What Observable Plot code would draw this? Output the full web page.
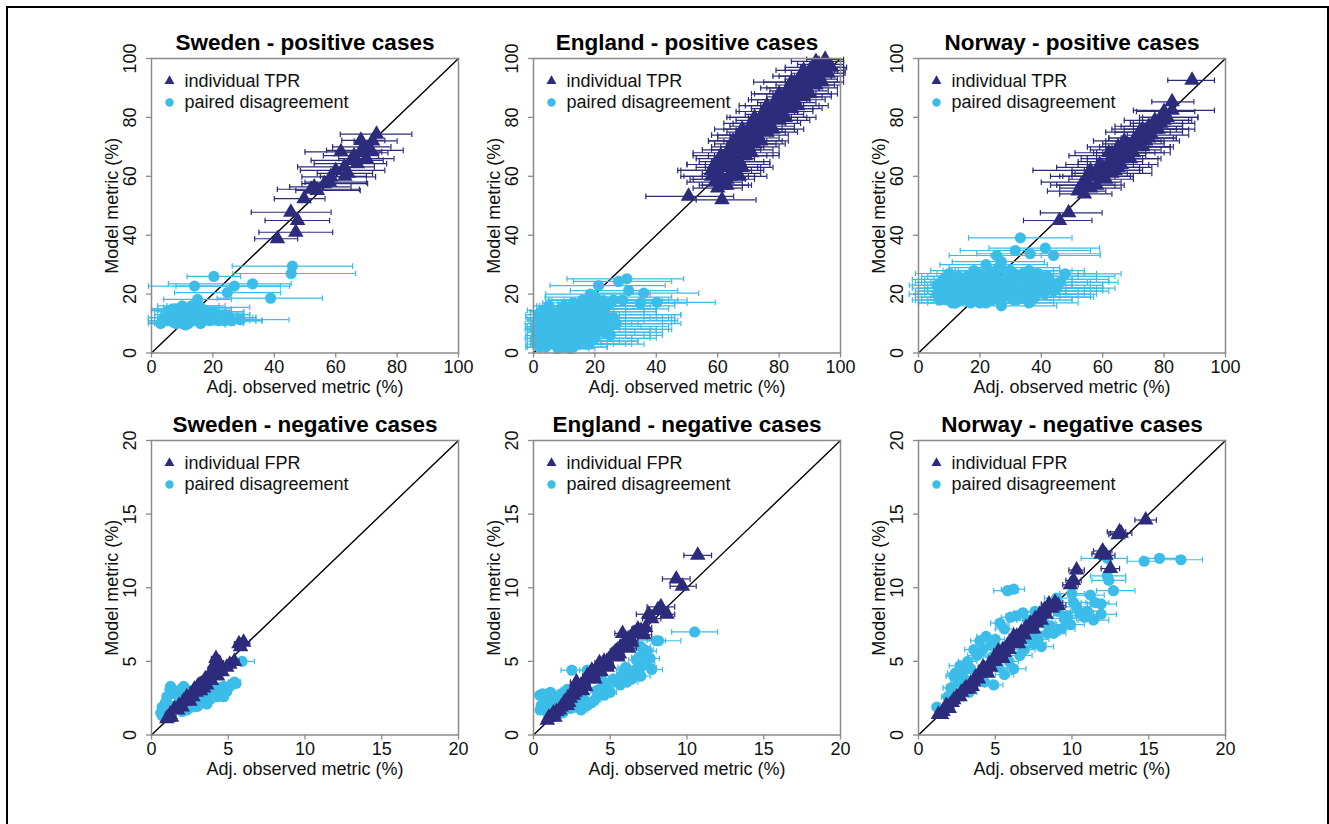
<!DOCTYPE html>
<html><head><meta charset="utf-8">
<script src="https://cdn.jsdelivr.net/npm/d3@7"></script>
<script src="https://cdn.jsdelivr.net/npm/@observablehq/plot@0.6"></script>
<style>
html,body{margin:0;padding:0;background:#fff;}
body{width:1329px;height:824px;overflow:hidden;position:relative;font-family:"Liberation Sans",Arial,Helvetica,sans-serif;}
#border{position:absolute;left:6px;top:6px;width:1323px;height:1000px;border:2.5px solid #000;box-sizing:border-box;}
</style></head>
<body><div id="border"></div><div id="root"></div>
<script>
// ---- labels / ticks ----
const countries = ["Sweden", "England", "Norway"];
const caseTypes = ["positive cases", "negative cases"];
const indLabels = ["individual TPR", "individual FPR"];
const pairLabel = "paired disagreement";
const xLabel = "Adj. observed metric (%)";
const yLabel = "Model metric (%)";
const posTicks = [0, 20, 40, 60, 80, 100];
const negTicks = [0, 5, 10, 15, 20];
const posDomain = [0, 100];
const negDomain = [0, 20];

// ---- data: [observed, model, lower CI, upper CI] ----
const swePosInd = [
[73.3,74.3,61.5,84.8],[68.2,72.2,62,76],[71.5,68.8,57,82],[61.7,68.3,50,75],[67,64.3,53,76.6],
[65,65.4,52,75.5],[62.8,63.2,47.6,72.6],[60,62,48.5,76],[58.4,59.8,49,73],[56.3,57.5,49,70.4],
[54,55.2,47,68],[53,56.4,45,65],[52,55.6,41,67.7],[49.7,52.4,40,56.5],[45.4,47.8,32.5,58.5],
[47.6,45,37,58],[47,41,35,59],[41,38.8,33.6,47.6],[64,61,54,72],[66,67,56,74],[69,70,59,78],
[70,66,61,79],[58,58,50,70],[63,60,55,70],[68,68,60,77],[72,72,66,80]];
const swePosPair = [
[45.9,29.5,26.3,65.5],[45.5,27,26.5,66.5],[20.3,26,11.6,29],[14,22.7,-1,45],[32.9,23.5,5.5,45.5],
[27,22.7,8,42],[24.7,20.5,7.5,42],[38.8,18.6,21.4,55.7],[15,18.2,4,26],[16,15.5,4,32],[12,14,2,30],
[8,13,1,22],[6,14.5,0,20],[10,12,1,33],[14,11,4,34],[18,12,6,28],[22,11,8,36],[29,11.3,11.6,44.8],
[7,10.5,-1,25],[11,9.5,2,24],[20,13.5,6,30],[4,12,-1,14],[25,12.5,10,30],[13,16,5,24],[9,11,0,20],
[16,10,3,27],[17,14,7,24],[5,11,-1,18],
[6,12,-1,20],[7,15,0,22],[8,10,0,22],[9,14,1,24],[10,10,1,26],[11,15,2,26],[12,12,2,28],[12,10,2,30],
[13,13,3,28],[14,14,4,30],[15,12,4,30],[16,13,5,32],[17,11,5,32],[18,14,6,30],[19,11,7,34],[20,12,7,34],
[21,13,8,32],[23,12,9,34],[24,11,10,36],[26,11,11,36],[8,15,0,20],[3,10,-1,12],[10,16,2,22],[15,14.5,4,26]];
const engPosInd = [
[50.5,53.2,36.6,65.2],[61.4,52,53,72.5],[59,58,50,68],[61,60,48,70],[63,59,52,72],[65,61,55,74],
[67,60,58,76],[60,62,47,71],[62,57,54,70],[61,64,50,69],[63,63,53,73],[64,65,54,75],[66,64,56,77],
[68,63,58,78],[62,66,53,72],[63,68,52,72],[65,67,57,76],[67,69,58,78],[69,67,60,80],[71,68,62,80],
[66,70,58,75],[66,72,57,76],[68,71,59,79],[70,73,60,80],[72,71,63,82],[74,72,66,83],[69,74,60,78],
[70,76,62,81],[72,75,63,82],[74,77,64,85],[76,75,66,86],[78,76,70,88],[73,78,65,82],[74,80,64,84],
[76,79,66,86],[78,81,69,88],[80,79,71,90],[82,80,74,92],[77,82,67,86],[78,84,69,88],[80,83,71,91],
[82,85,73,92],[84,83,75,94],[86,84,78,96],[81,86,71,90],[82,88,72,92],[84,87,76,94],[86,89,77,96],
[88,87,79,97],[90,88,82,99],[85,90,76,93],[86,92,71.7,95],[88,91,79,98],[90,93,82,99],[92,91,84,100],
[94,92,87,101],[89,94,80,97],[90,96,82,99],[92,95,84,101],[94,97,87,101],[96,95,89,101.5],
[93,98,86,101],[95,99.7,89,101],
[58,60,49,67],[60,59,51,69],[64,60,55,72],[66,62,57,75],[59,64,50,68],[64,63,56,74],[67,65,58,77],
[61,67,52,71],[64,69,55,74],[68,67,59,78],[70,70,61,80],[65,72,57,75],[67,74,58,77],[71,72,62,81],
[73,74,64,83],[68,76,59,78],[71,78,62,81],[75,76,66,85],[77,78,68,87],[72,80,63,82],[75,82,66,85],
[79,80,70,89],[81,82,72,91],[76,84,67,86],[79,86,70,89],[83,84,74,93],[85,86,76,95],[80,88,71,90],
[83,90,74,93],[87,88,78,97],[89,90,80,99],[84,92,75,94],[87,94,78,97],[91,92,82,100],[93,94,85,101],
[88,96,79,98],[91,97,82,100],[95,96,87,101.5],[97,97,90,102],[92,99,84,101],[60,56,52,68],[63,57,55,71],
[58,62,48,66]];
const engPosPair = [
[30.4,25.2,10.9,48.9],[27.7,24.3,13,45],[21.2,22.9,5.4,42.9],[18.5,20,4,38],[31,21.2,12,47],
[35.9,20.3,18,53.8],[20,19,3.8,45],[40.2,17.2,22.8,59.2],[34.8,16.9,15,50],[22.8,17.8,5,42],
[25,17,8,46],[15,16,2,35],[12,14,-1,30],[22,15,6,40],[1,3,-2.5,12],[2,6,-2.5,16],[3,9,-2,20],
[4,5,-2,18],[5,12,-1,25],[6,8,-1.5,28],[7,3,-1,22],[8,11,0,30],[9,6,0,25],[10,2,1,24],[11,9,1,35],
[12,5,2,32],[13,12,2,38],[14,8,3,40],[15,3,3,30],[16,10,4,45],[17,6,4,42],[18,13,5,48],[19,9,5,44],
[20,5,6,40],[21,11,7,47],[22,8,8,45],[2,12,-2.5,14],[4,2,-2,14],[6,14,-1,22],[8,1.5,0,18],
[10,13,1,27],[12,1.5,2,20],[14,4,3,34],[16,14,4,36],[24,9,9,42],[26,12,10,45],[23,14,8,40],
[3,14.5,-2,18],[0.5,8,-2.7,10],[0.5,5,-2.7,9],[9,15,1,26],[5,16,0,22],[18,3,5,36],[25,6,10,38],
[7,7,0,24],[11,4,1,28],[13,7,2,33],[15,11,3,36],[17,8,4,40],[19,12,5,42],[3,7,-2,16],[5,9,-1,20],
[9,10,0,30],[20,15,5,40],[27,10,12,48],
[1,10,-2.7,12],[1.5,13,-2.5,14],[2,2,-2.5,10],[3,4,-2,14],[4,8,-2,18],[4,11,-1.5,20],[5,14,-1,24],
[6,5,-1,20],[6,11,-1,26],[7,9,-0.5,26],[7,13,0,28],[8,4,0,22],[8,7,0,26],[9,3,0,24],[9,12,0.5,30],
[10,8,1,30],[10,10,1,32],[11,13,1,36],[11,6,1,30],[12,10,2,34],[12,3,2,26],[13,2,2,24],[13,15,3,36],
[14,12,3,40],[14,6,3,36],[15,8,3,38],[15,14,4,40],[16,4,4,34],[16,7,4,38],[17,12,5,44],[17,3,4,32],
[18,10,5,42],[18,7,5,40],[19,5,6,38],[19,15,6,44],[20,11,6,46],[21,8,7,44],[21,13,7,48],[22,11,8,46],
[23,7,9,42],[24,12,9,46],[17,16,5,38],[19,18,5,40],[21,18,6,44],[16,18,4,36],[13,17,3,34],[24,16,9,46],
[26,18,10,47],[29,18,12,50],[10,16,1,30],[2,9,-2.5,14],[3,11.5,-2,18]];
const norPosInd = [
[89.1,92.6,81.2,96.4],[82.6,85.3,76,89.7],[82.6,82.4,70,96.4],[48.9,47.6,39.7,59.8],[45.9,45,34.2,56.5],
[52,55,42,61],[54,54,46,63],[55,58,40,66],[56,62,37.3,59.2],[58,57,45,67],[57,60,46,70],[60,63,45,72],
[61,59,49,70],[62,65,52,73],[63,61,51,76],[64,67,49,74],[66,64,55,78],[65,70,55,75],[67,69,56,79],
[68,71,60,80],[69,66,58,79],[70,68,60,82],[71,73,62,84],[72,75,61,82],[74,72,65,85],[75,77,64,86],
[76,74,68,88],[77,79,67,88],[78,76,70,90],[80,79,72,89],[79,80,73,91],[73,70,63,83],[59,61,50,68],
[66,68,57,77],[70,72,61,80],[75,73,66,84],[64,62,54,73],[78,78,69,86],
[53,57,43,64],[56,56,46,66],[58,60,47,69],[59,64,48,70],[61,62,50,72],[62,68,51,74],[63,64,52,75],
[65,63,55,76],[66,66,55,78],[67,72,57,79],[68,68,58,80],[69,70,59,82],[71,70,61,82],[72,73,62,83],
[73,76,63,84],[74,75,64,86],[76,77,66,86],[77,76,67,88],[79,78,70,90],[81,80,72,91],[80,82,71,90],
[55,60,43,64],[60,60,50,70],[63,66,53,73]];
const norPosPair = [
[33.2,39.1,16.3,50],[31.5,34.8,13.6,56],[36.4,33.7,19,59.2],[41.3,35.6,23,59],[44,33.1,23.6,59.2],
[25.5,33.1,10,40],[27,31,11,41],[47.8,26.9,30,66],[8,22,-2,20],[10,24,-1,25],[12,20,0,30],[14,22,2,32],
[16,18,3,34],[18,24,4,38],[20,20,6,40],[22,17,7,36],[24,23,9,42],[26,19,11,46],[28,22,12,48],
[30,25,14,50],[32,18,15,50],[34,21,17,52],[36,24,18,55],[38,19,20,57],[40,22,22,60],[42,26,25,64],
[44,21,26,62],[46,24,28,65],[6,20,-3,18],[9,18,-1,22],[11,21,0,26],[13,19,1,28],[15,25,2,30],
[17,21,3,36],[19,18,5,35],[21,23,6,40],[23,20,8,44],[25,26,10,44],[27,17,10,44],[29,20,13,48],
[31,23,15,50],[33,26,16,52],[35,19,18,56],[37,22,19,58],[39,27,21,58],[41,20,23,56],[7,23,-2,22],
[12,24,1,28],[20,27,6,38],[28,28,12,46],[36,28,19,54],[27,16,12,45],[18,21,5,36],[24,21,9,42],
[6,23,-3,20],[7,18,-2,20],[8,25,-2,22],[9,21,-1,24],[10,19,-1,26],[10,27,-1,26],[11,17,0,28],
[12,22,0,30],[13,26,1,32],[14,18,1,34],[14,24,2,34],[15,20,2,32],[16,23,3,36],[16,26,3,34],
[17,17,3,36],[18,19,4,38],[19,25,5,40],[20,22,6,42],[21,19,6,42],[22,25,7,44],[22,21,7,40],
[23,28,8,44],[24,18,9,44],[25,22,10,46],[26,24,11,48],[27,20,11,46],[28,25,12,50],[29,23,13,50],
[30,19,14,52],[30,21,14,48],[31,27,15,52],[32,22,15,54],[33,20,16,54],[34,24,17,56],[35,22,18,56],
[36,20,18,58],[37,25,19,58],[38,23,20,60],[39,21,21,60],[40,25,22,62],[41,23,23,60],[43,24,25,62],
[45,22,27,64],[26,29,10,46],[30,28,13,50],[22,30,7,42],[18,28,4,38],[34,27,17,54],[38,26,20,58],
[12,17,0,28],[20,17,6,38],[31,18,14,50],[36,17,18,52],[16,21,3,36]];
const sweNegInd = [
[1.0,1.1,0.8,1.3],[1.2,1.4,0.9,1.5],[1.5,1.8,1.2,1.8],[1.8,2.0,1.5,2.1],[2.1,2.3,1.8,2.4],
[2.3,2.6,2.0,2.6],[2.6,2.8,2.3,2.9],[2.8,3.1,2.5,3.1],[3.0,3.3,2.7,3.3],[3.3,3.5,3.0,3.6],
[3.5,3.8,3.2,3.8],[3.8,4.1,3.5,4.1],[4.0,4.5,3.7,4.3],[4.2,5.2,3.9,4.5],[4.4,4.9,4.1,4.7],
[4.6,4.3,4.3,4.9],[5.4,5.0,5.1,5.7],[5.7,6.2,5.4,6.0],[6.0,6.3,5.7,6.4],[2.5,2.3,2.2,2.8],
[3.2,3.0,2.9,3.5],[1.3,1.2,1.0,1.6],[2.0,1.9,1.7,2.3],[3.6,3.4,3.3,3.9],
[1.1,1.2,0.9,1.3],[1.7,1.7,1.5,1.9],[2.4,2.4,2.2,2.6],[2.9,2.9,2.7,3.1],[3.4,3.2,3.2,3.6],
[3.9,3.7,3.7,4.1],[4.3,4.0,4.1,4.5],[4.9,4.6,4.7,5.1],[5.1,4.8,4.9,5.3],[5.8,6.0,5.6,6.0],
[2.7,2.6,2.5,2.9],[3.1,3.4,2.9,3.3],[4.1,4.8,3.9,4.3]];
const sweNegPair = [
[5.9,5.0,5.2,6.7],[5.4,3.6,5.0,5.8],[4.7,3.3,4.4,5.0],[4.1,3.1,3.8,4.4],[3.4,2.6,3.1,3.7],
[2.5,2.05,2.2,2.8],[3.0,1.95,2.7,3.3],[1.24,3.3,1.0,1.5],[1.0,2.6,0.8,1.2],[0.7,1.9,0.5,0.9],
[0.6,1.5,0.4,0.8],[1.6,2.0,1.4,1.8],[2.1,3.3,1.9,2.3],[2.3,1.7,2.0,2.6],[4.3,2.6,4.0,4.6],
[4.9,2.95,4.6,5.2],[3.6,2.1,3.3,3.9],[1.8,2.6,1.6,2.0],[4.7,2.6,4.4,5.0],[5.2,3.4,4.9,5.5],
[2.8,2.3,2.5,3.1],[1.4,3.0,1.2,1.6],[0.9,2.2,0.7,1.1],
[0.8,1.6,0.6,1.0],[1.0,2.3,0.8,1.2],[1.2,3.1,1.0,1.4],[1.5,2.8,1.3,1.7],[2.0,1.6,1.8,2.2],
[2.7,1.9,2.5,2.9],[3.2,2.2,3.0,3.4],[3.8,2.4,3.6,4.0],[4.5,2.8,4.3,4.7],[5.0,3.2,4.8,5.2],
[5.5,3.5,5.3,5.7],[3.9,2.8,3.7,4.1],[2.5,3.0,2.3,2.7],[1.9,3.1,1.7,2.1],[4.4,3.2,4.2,4.6],
[0.7,1.3,0.5,0.9]];
const engNegInd = [
[10.7,12.2,9.8,11.6],[9.3,10.6,8.4,10.2],[9.7,10.1,8.9,10.6],[8.3,8.7,7.4,9.2],[7.5,8.2,6.7,8.3],
[8.7,8.2,7.9,9.2],[5.8,6.9,5.3,6.3],[2.8,3.6,2.4,3.2],[0.9,1.0,0.7,1.1],[1.2,1.3,1.0,1.4],
[1.5,1.6,1.3,1.7],[1.8,1.9,1.6,2.0],[2.1,2.3,1.9,2.3],[2.4,2.5,2.2,2.6],[2.7,2.9,2.5,2.9],
[3.0,3.2,2.8,3.3],[3.3,3.5,3.0,3.6],[3.6,3.8,3.3,3.9],[3.9,4.1,3.6,4.2],[4.2,4.4,3.9,4.5],
[4.5,4.8,4.2,4.8],[4.8,5.0,4.5,5.1],[5.1,5.4,4.8,5.4],[5.4,5.7,5.0,5.8],[5.7,6.0,5.3,6.1],
[6.0,6.3,5.6,6.4],[6.3,6.6,5.9,6.8],[6.6,6.9,6.2,7.1],[7.0,7.1,6.5,7.5],[3.2,3.0,2.9,3.5],
[4.0,3.8,3.7,4.3],[4.8,4.6,4.5,5.2],[5.5,5.3,5.1,5.9],[2.2,2.0,1.9,2.5],[1.4,1.2,1.2,1.6],
[6.2,5.9,5.8,6.7],[7.2,6.8,6.8,7.7],[4.3,4.9,4.0,4.6],[3.5,4.0,3.2,3.8],
[1.0,1.2,0.8,1.2],[1.3,1.5,1.1,1.5],[1.7,1.7,1.5,1.9],[2.0,2.2,1.8,2.2],[2.3,2.2,2.1,2.5],
[2.6,2.7,2.4,2.8],[2.9,3.1,2.7,3.1],[3.1,3.4,2.9,3.4],[3.4,3.3,3.1,3.7],[3.7,4.0,3.4,4.0],
[4.1,4.3,3.8,4.4],[4.4,4.3,4.1,4.7],[4.6,5.0,4.3,4.9],[4.9,4.8,4.6,5.2],[5.2,5.5,4.9,5.5],
[5.6,5.5,5.3,5.9],[5.9,6.2,5.5,6.3],[6.4,6.3,6.0,6.8],[6.8,7.2,6.4,7.3],[7.3,7.3,6.9,7.7],
[2.5,2.9,2.2,2.8],[3.8,4.4,3.5,4.1],[6.5,6.9,6.1,6.9],[7.7,7.9,7.1,8.3],[8.1,8.5,7.5,8.8]];
const engNegPair = [
[10.5,7.0,9.0,12.0],[8.15,6.4,6.6,9.6],[2.5,4.4,1.8,3.3],[6.96,4.56,6.3,8.0],[6.1,3.6,5.5,6.8],
[7.7,4.45,7.0,8.4],[0.43,1.7,0.3,0.7],[0.76,2.5,0.5,1.0],[1.1,2.9,0.8,1.4],[2.2,3.1,1.8,2.6],
[3.5,4.4,3.0,3.9],[0.4,2.7,0.3,0.6],[2.4,1.8,2.0,2.8],[3.5,2.0,3.1,3.9],[4.6,2.7,4.2,5.0],
[5.65,3.4,5.2,6.1],[6.3,4.2,5.8,6.8],[7.2,5.8,6.6,7.8],[7.4,5.7,6.9,8.0],[6.7,5.1,6.2,7.4],
[1.5,1.4,1.2,1.8],[2.9,2.3,2.5,3.3],[4.1,3.0,3.7,4.5],[5.2,3.8,4.7,5.7],[1.6,2.4,1.3,1.9],
[0.9,1.6,0.6,1.2],[5.9,4.4,5.4,6.4],[4.0,2.4,3.6,4.4],[3.1,1.7,2.7,3.5],[6.8,4.5,6.2,7.6],
[7.0,4.0,6.5,7.6],
[0.5,2.0,0.3,0.8],[0.6,2.8,0.4,0.9],[0.9,2.2,0.6,1.2],[1.2,2.6,0.9,1.5],[1.3,1.9,1.0,1.6],
[1.8,2.8,1.4,2.2],[1.9,1.5,1.6,2.2],[2.7,1.9,2.3,3.1],[3.3,2.4,2.9,3.7],[3.8,2.2,3.4,4.2],
[4.3,3.1,3.9,4.7],[4.8,3.2,4.4,5.2],[5.0,2.9,4.6,5.4],[5.4,3.6,5.0,5.8],[5.7,4.0,5.2,6.2],
[6.0,4.6,5.5,6.5],[6.4,3.8,5.9,6.9],[6.6,4.4,6.1,7.1],[7.3,4.8,6.8,7.9],[7.6,5.2,7.0,8.2],
[2.0,2.5,1.7,2.3],[1.0,1.3,0.7,1.3],[4.5,3.7,4.1,4.9],[3.0,2.8,2.6,3.4],[6.9,5.3,6.4,7.5],
[8.0,6.4,7.4,8.6],[7.0,6.0,6.5,7.6]];
const norNegInd = [
[14.8,14.6,14.1,15.5],[13.1,13.8,12.3,13.5],[13.2,13.7,12.5,13.9],[12.0,12.5,11.4,12.6],
[11.9,12.3,11.3,12.5],[12.5,11.3,11.9,13.1],[10.3,11.2,9.8,10.8],[9.9,10.2,9.4,10.4],
[8.9,9.0,8.4,9.4],[8.5,8.9,8.0,9.0],[1.3,1.4,1.1,1.5],[1.6,1.6,1.3,1.9],[1.9,1.9,1.6,2.2],
[2.2,2.2,1.9,2.5],[2.5,2.6,2.2,2.8],[2.8,2.9,2.5,3.1],[3.1,3.2,2.8,3.4],[3.4,3.5,3.1,3.7],
[3.7,3.9,3.4,4.0],[4.0,4.2,3.7,4.3],[4.3,4.5,4.0,4.6],[4.6,4.8,4.3,4.9],[4.9,5.2,4.6,5.2],
[5.2,5.5,4.9,5.5],[5.5,5.8,5.2,5.8],[5.8,6.1,5.5,6.1],[6.1,6.4,5.8,6.4],[6.4,6.7,6.1,6.7],
[6.7,7.0,6.4,7.0],[7.0,7.3,6.7,7.3],[7.3,7.6,7.0,7.6],[7.6,7.9,7.3,7.9],[7.9,8.2,7.6,8.2],
[8.2,8.5,7.9,8.5],[3.5,3.3,3.2,3.8],[4.5,4.2,4.2,4.8],[5.5,5.2,5.2,5.8],[6.5,6.2,6.2,6.8],
[7.5,7.2,7.2,7.8],[4.2,4.6,3.9,4.5],[5.2,5.7,4.9,5.5],[6.2,6.7,5.9,6.5],[2.0,1.8,1.7,2.3],
[8.0,7.8,7.7,8.3],
[1.5,1.4,1.3,1.7],[1.8,2.0,1.6,2.0],[2.3,2.4,2.0,2.6],[2.7,2.6,2.4,3.0],[3.0,3.1,2.7,3.3],
[3.3,3.1,3.0,3.6],[3.6,3.6,3.3,3.9],[3.9,3.8,3.6,4.2],[4.1,4.3,3.8,4.4],[4.4,4.4,4.1,4.7],
[4.7,4.6,4.4,5.0],[5.0,5.0,4.7,5.3],[5.3,5.3,5.0,5.6],[5.6,5.6,5.3,5.9],[5.9,5.8,5.6,6.2],
[6.2,6.2,5.9,6.5],[6.6,6.5,6.3,6.9],[6.9,6.8,6.6,7.2],[7.2,7.2,6.9,7.5],[7.7,7.6,7.4,8.0],
[8.3,8.2,8.0,8.6],[8.7,8.6,8.2,9.2],[9.1,8.8,8.6,9.6],[10.1,10.5,9.6,10.6],[12.2,12.2,11.6,12.8],
[13.0,13.6,12.4,13.6]];
const norNegPair = [
[17.1,11.9,15.8,18.5],[15.7,12.0,14.6,16.8],[14.7,11.8,13.6,15.8],[12.3,10.8,11.2,13.5],
[12.3,12.0,10.6,13.6],[12.7,9.8,11.6,14.1],[5.8,9.8,4.9,6.5],[6.2,9.9,5.4,6.9],[11.2,9.5,10.2,12.1],
[11.9,8.9,11.0,12.9],[11.9,8.2,10.9,12.9],[11.4,7.8,10.4,12.4],[11.0,8.4,10.0,12.0],[9.7,8.1,8.8,10.6],
[9.3,7.2,8.4,10.2],[8.4,6.9,7.6,9.2],[7.5,6.2,6.7,8.3],[6.6,5.4,5.9,7.4],[6.2,4.5,5.5,7.0],
[4.9,3.4,4.3,5.5],[2.7,4.7,2.0,3.4],[2.3,4.0,1.8,2.9],[2.1,3.2,1.6,2.6],[1.2,1.9,0.9,1.5],
[4.7,6.1,4.1,5.3],[5.6,7.2,5.0,6.2],[6.4,8.1,5.7,7.1],[8.2,8.5,7.4,9.0],[7.1,7.8,6.4,7.8],
[3.8,5.4,3.2,4.4],[3.4,4.5,2.9,3.9],[7.5,7.0,6.8,8.2],[8.8,6.9,8.0,9.6],[10.3,8.7,9.4,11.2],
[10.0,9.6,9.2,10.8],[9.0,9.3,8.2,9.8],[3.0,3.8,2.5,3.5],[4.2,5.8,3.6,4.8],[5.0,6.5,4.4,5.6],
[10.8,8.0,9.9,11.7],[8.0,6.0,7.2,8.8],[5.6,4.1,5.0,6.2],[9.9,7.5,9.0,10.8],
[2.4,4.2,1.9,2.9],[2.9,4.3,2.4,3.4],[3.2,5.0,2.6,3.8],[3.6,5.8,3.0,4.2],[4.0,6.4,3.4,4.6],
[4.4,6.7,3.8,5.0],[5.3,7.6,4.7,5.9],[6.0,8.0,5.4,6.6],[6.8,8.3,6.2,7.4],[7.6,8.4,7.0,8.2],
[2.6,3.6,2.1,3.1],[3.3,2.9,2.8,3.8],[4.3,3.6,3.8,4.8],[5.2,4.6,4.6,5.8],[5.9,5.0,5.3,6.5],
[6.9,5.8,6.2,7.6],[7.8,6.5,7.1,8.5],[8.6,7.4,7.9,9.3],[9.5,7.9,8.7,10.3],[10.5,8.3,9.6,11.4],
[11.5,9.0,10.6,12.4],[9.1,8.4,8.3,9.9],[10.1,9.0,9.3,10.9],[4.8,5.3,4.2,5.4],[1.9,2.6,1.5,2.3],
[7.0,6.6,6.3,7.7],[8.2,7.6,7.5,8.9],[12.4,10.5,11.3,13.5]];

// ---- styling ----
const DARK = "#2c2b7c";
const LIGHT = "#3cbde9";
const GRAY = "#8a8a8a";
const FONT = "'Liberation Sans', Arial, Helvetica, sans-serif";
const frameLefts = [151, 533, 918];
const frameTops = [58, 440];
const FW = 307, FH = 294.5;
const mL = 60, mR = 14, mT = 42, mB = 52;

const capSymbol = {draw(ctx) { ctx.moveTo(0, -2.8); ctx.lineTo(0, 2.8); }};

function errorMarks(data, color) {
  return [
    Plot.ruleY(data, {y: d => d[1], x1: d => d[2], x2: d => d[3], stroke: color, strokeWidth: 1.2}),
    Plot.dot(data, {x: d => d[2], y: d => d[1], symbol: capSymbol, r: 2, fill: "none", stroke: color, strokeWidth: 1.2}),
    Plot.dot(data, {x: d => d[3], y: d => d[1], symbol: capSymbol, r: 2, fill: "none", stroke: color, strokeWidth: 1.2})
  ];
}

function panel(row, col, ind, pair) {
  const domain = row === 0 ? posDomain : negDomain;
  const ticks = row === 0 ? posTicks : negTicks;
  const title = countries[col] + " - " + caseTypes[row];
  const svg = Plot.plot({
    width: FW + mL + mR, height: FH + mT + mB,
    marginLeft: mL, marginRight: mR, marginTop: mT, marginBottom: mB,
    x: {domain, type: "linear"},
    y: {domain, type: "linear"},
    style: {background: "transparent", fontFamily: FONT, fontSize: "18px", color: "#111", overflow: "visible"},
    marks: [
      Plot.line(domain, {x: d => d, y: d => d, stroke: "#000", strokeWidth: 1.4}),
      ...errorMarks(pair, LIGHT),
      Plot.dot(pair, {x: d => d[0], y: d => d[1], symbol: "circle", r: 5.6, fill: LIGHT}),
      ...errorMarks(ind, DARK),
      Plot.dot(ind, {x: d => d[0], y: d => d[1], symbol: "triangle", r: 5.8, fill: DARK}),
      Plot.frame({stroke: GRAY, strokeWidth: 1.5}),
      Plot.axisX({ticks, tickSize: 5, tickPadding: 2.5, stroke: GRAY, strokeWidth: 1.3, label: null, fill: "#111"}),
      Plot.axisY({ticks, tickSize: 5, tickPadding: 11, tickRotate: -90, stroke: GRAY, strokeWidth: 1.3, label: null, fill: "#111"}),
      Plot.dot([indLabels[row]], {frameAnchor: "top-left", dx: 18, dy: 22.5, symbol: "triangle", r: 3.7, fill: DARK}),
      Plot.dot([pairLabel], {frameAnchor: "top-left", dx: 18, dy: 44, symbol: "circle", r: 4.2, fill: LIGHT}),
      Plot.text([indLabels[row]], {text: d => d, frameAnchor: "top-left", dx: 33, dy: 22.5, textAnchor: "start", lineAnchor: "middle", fill: "#111"}),
      Plot.text([pairLabel], {text: d => d, frameAnchor: "top-left", dx: 33, dy: 44, textAnchor: "start", lineAnchor: "middle", fill: "#111"}),
      Plot.text([xLabel], {text: d => d, frameAnchor: "bottom", dy: 40, lineAnchor: "bottom", fill: "#111"}),
      Plot.text([yLabel], {text: d => d, frameAnchor: "left", dx: -34, rotate: -90, textAnchor: "middle", lineAnchor: "bottom", fill: "#111"}),
      Plot.text([title], {text: d => d, frameAnchor: "top", dy: -8.5, lineAnchor: "bottom", fontWeight: "bold", fontSize: 22.5, fill: "#000"})
    ]
  });
  svg.style.position = "absolute";
  svg.style.left = (frameLefts[col] - mL) + "px";
  svg.style.top = (frameTops[row] - mT) + "px";
  svg.style.maxWidth = "none";
  document.getElementById("root").appendChild(svg);
}

panel(0, 0, swePosInd, swePosPair);
panel(0, 1, engPosInd, engPosPair);
panel(0, 2, norPosInd, norPosPair);
panel(1, 0, sweNegInd, sweNegPair);
panel(1, 1, engNegInd, engNegPair);
panel(1, 2, norNegInd, norNegPair);
</script>
</body></html>
